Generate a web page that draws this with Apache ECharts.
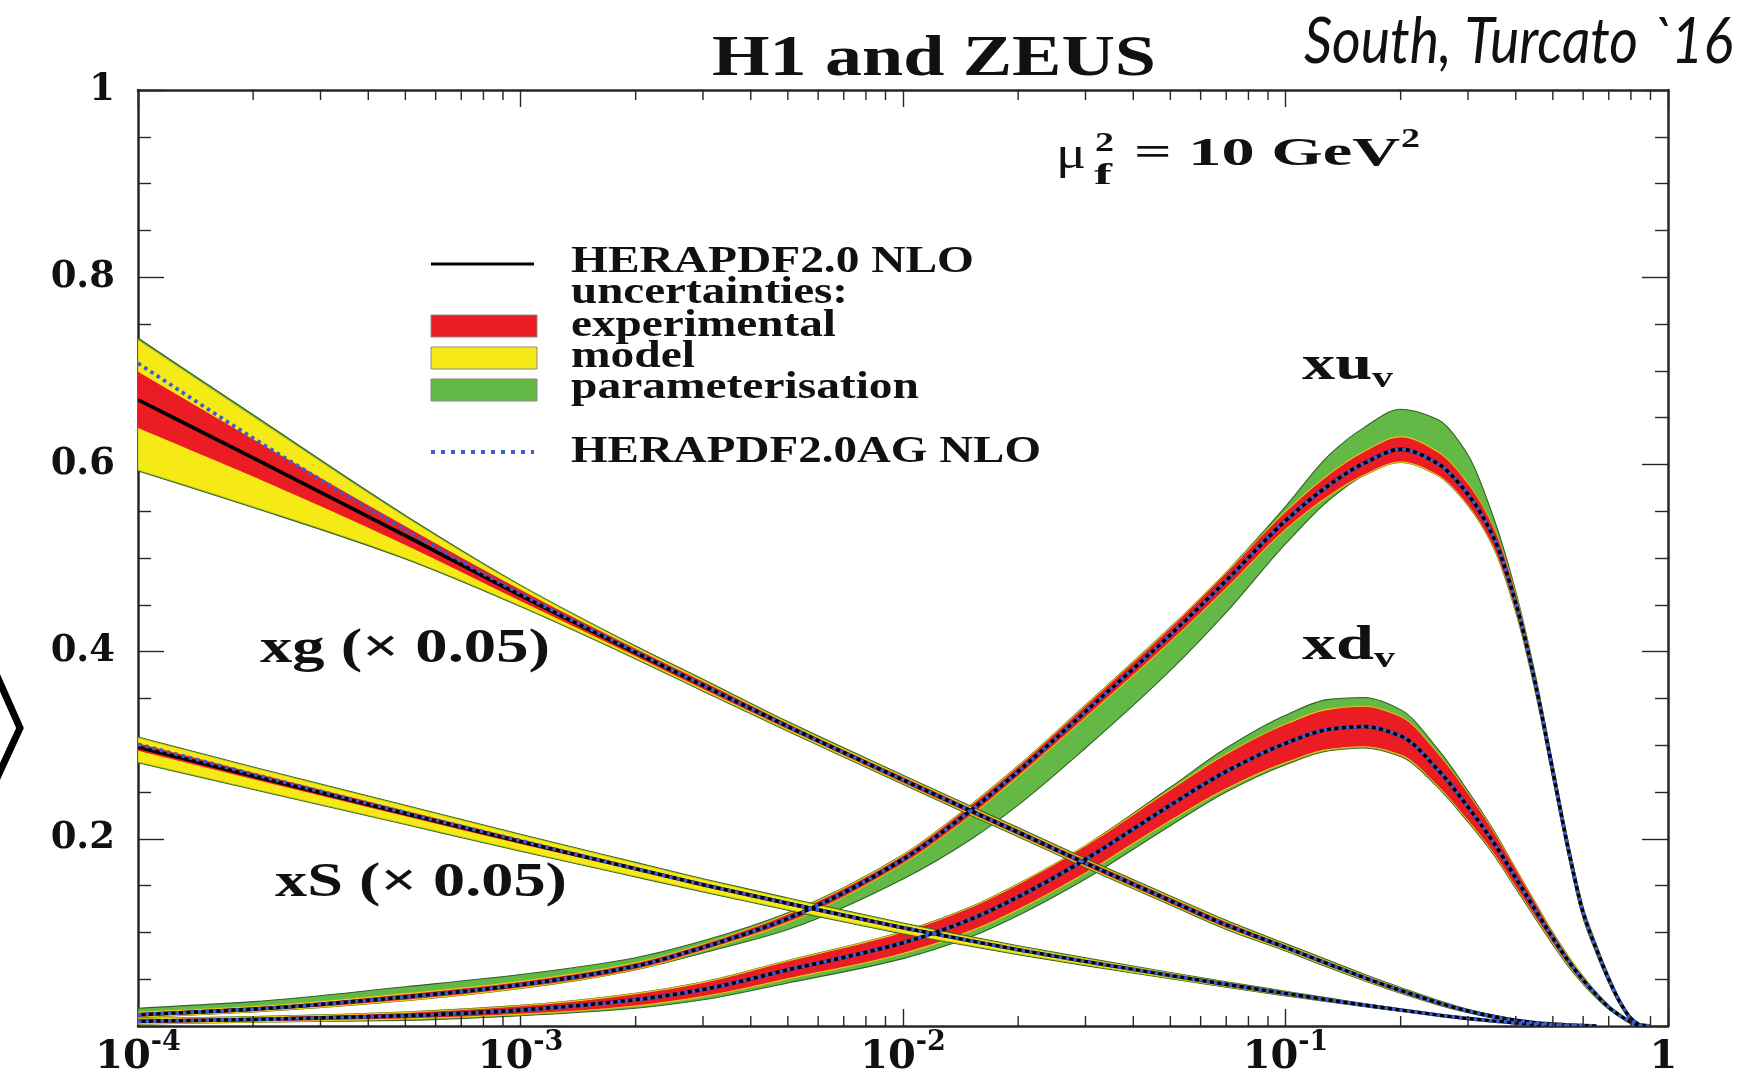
<!DOCTYPE html>
<html>
<head>
<meta charset="utf-8">
<title>H1 and ZEUS – HERAPDF2.0 NLO parton distributions</title>
<script src="https://cdn.jsdelivr.net/npm/echarts@6/dist/echarts.min.js"></script>
<style>
  html, body { margin: 0; padding: 0; background: #ffffff; }
  #chart { width: 1747px; height: 1078px; }
</style>
</head>
<body>
<div id="chart"></div>
<script>
// Momentum fraction x at which every distribution is sampled
const xValues = [0.0001, 0.0002, 0.0005, 0.001, 0.002, 0.003, 0.005, 0.01, 0.015, 0.02, 0.03, 0.05, 0.07, 0.1, 0.13, 0.16, 0.2, 0.25, 0.3, 0.35, 0.4, 0.45, 0.5, 0.55, 0.6, 0.65, 0.7, 0.75, 0.8, 0.85, 0.9];

// Decade tick labels of the x axis (exponents of ten)
const xDecades = [-4, -3, -2, -1, 0];
// Value-axis tick labels
const yTickLabels = ['', '0.2', '0.4', '0.6', '0.8', '1'];

// Gluon xg (scaled by 0.05)
const xgCentral = [0.669, 0.607, 0.524, 0.460, 0.399, 0.364, 0.320, 0.263, 0.230, 0.207, 0.174, 0.134, 0.108, 0.084, 0.066, 0.052, 0.038, 0.025, 0.016, 0.010, 0.006, 0.0035, 0.002, 0.001, 0.0005, 0, 0, 0, 0, 0, 0];
const xgAG      = [0.708, 0.628, 0.530, 0.462, 0.400, 0.364, 0.320, 0.263, 0.230, 0.207, 0.174, 0.134, 0.108, 0.084, 0.066, 0.052, 0.038, 0.025, 0.016, 0.010, 0.006, 0.0035, 0.002, 0.001, 0.0005, 0, 0, 0, 0, 0, 0];
const xgExp     = [0.030, 0.020, 0.010, 0.006, 0.004, 0.004, 0.003, 0.003, 0.003, 0.003, 0.003, 0.003, 0.003, 0.002, 0.002, 0.002, 0.002, 0.0015, 0.001, 0.001, 0.0006, 0.0004, 0.0002, 0.0001, 0.0001, 0, 0, 0, 0, 0, 0];
const xgModUp   = [0.034, 0.024, 0.010, 0.004, 0.002, 0.0015, 0.0012, 0.001, 0.001, 0.001, 0.001, 0.001, 0.001, 0.001, 0.001, 0.0008, 0.0006, 0.0005, 0.0004, 0.0003, 0.0002, 0.0001, 0, 0, 0, 0, 0, 0, 0, 0, 0];
const xgModDn   = [0.045, 0.032, 0.014, 0.005, 0.002, 0.0015, 0.0012, 0.001, 0.001, 0.001, 0.001, 0.001, 0.001, 0.001, 0.001, 0.0008, 0.0006, 0.0005, 0.0004, 0.0003, 0.0002, 0.0001, 0, 0, 0, 0, 0, 0, 0, 0, 0];
const xgParUp   = [0.002, 0.002, 0.0015, 0.001, 0.001, 0.001, 0.001, 0.001, 0.001, 0.001, 0.001, 0.001, 0.001, 0.001, 0.001, 0.0008, 0.0006, 0.0005, 0.0004, 0.0003, 0.0002, 0.0001, 0, 0, 0, 0, 0, 0, 0, 0, 0];
const xgParDn   = [0.001, 0.001, 0.001, 0.0008, 0.0008, 0.0008, 0.0008, 0.0008, 0.0008, 0.0008, 0.0008, 0.0008, 0.0008, 0.0008, 0.0008, 0.0006, 0.0005, 0.0004, 0.0003, 0.0002, 0.0001, 0.0001, 0, 0, 0, 0, 0, 0, 0, 0, 0];

// Sea xS (scaled by 0.05)
const xsCentral = [0.298, 0.267, 0.227, 0.197, 0.168, 0.151, 0.131, 0.105, 0.091, 0.0815, 0.069, 0.054, 0.0445, 0.0348, 0.0278, 0.0225, 0.017, 0.0118, 0.008, 0.0053, 0.0033, 0.0019, 0.001, 0.0004, 0, 0, 0, 0, 0, 0, 0];
const xsAG      = [0.301, 0.269, 0.228, 0.198, 0.168, 0.151, 0.131, 0.105, 0.091, 0.0815, 0.069, 0.054, 0.0445, 0.0348, 0.0278, 0.0225, 0.017, 0.0118, 0.008, 0.0053, 0.0033, 0.0019, 0.001, 0.0004, 0, 0, 0, 0, 0, 0, 0];
const xsExp     = [0.004, 0.0035, 0.003, 0.0025, 0.002, 0.002, 0.002, 0.0018, 0.0015, 0.0015, 0.0012, 0.001, 0.001, 0.0009, 0.0008, 0.0006, 0.0005, 0.0004, 0.0003, 0.0002, 0.0001, 0, 0, 0, 0, 0, 0, 0, 0, 0, 0];
const xsModUp   = [0.006, 0.0055, 0.005, 0.0045, 0.004, 0.0035, 0.003, 0.0025, 0.0022, 0.002, 0.0018, 0.0015, 0.0012, 0.001, 0.0008, 0.0006, 0.0005, 0.0004, 0.0003, 0.0002, 0.0001, 0, 0, 0, 0, 0, 0, 0, 0, 0, 0];
const xsModDn   = [0.012, 0.010, 0.008, 0.007, 0.006, 0.005, 0.0045, 0.004, 0.0035, 0.003, 0.0025, 0.002, 0.0015, 0.0012, 0.001, 0.0008, 0.0006, 0.0004, 0.0003, 0.0002, 0.0001, 0, 0, 0, 0, 0, 0, 0, 0, 0, 0];
const xsParUp   = [0.0008, 0.0008, 0.0008, 0.0008, 0.0008, 0.0008, 0.0008, 0.0008, 0.0008, 0.0008, 0.0008, 0.0006, 0.0006, 0.0005, 0.0004, 0.0003, 0.0002, 0.0001, 0.0001, 0, 0, 0, 0, 0, 0, 0, 0, 0, 0, 0, 0];
const xsParDn   = [0.0008, 0.0008, 0.0008, 0.0008, 0.0008, 0.0008, 0.0008, 0.0008, 0.0008, 0.0008, 0.0008, 0.0006, 0.0006, 0.0005, 0.0004, 0.0003, 0.0002, 0.0001, 0.0001, 0, 0, 0, 0, 0, 0, 0, 0, 0, 0, 0, 0];

// Valence up xu_v
const xuCentral = [0.012, 0.018, 0.031, 0.044, 0.064, 0.084, 0.115, 0.178, 0.230, 0.272, 0.336, 0.418, 0.476, 0.540, 0.578, 0.601, 0.616, 0.601, 0.568, 0.522, 0.452, 0.366, 0.272, 0.187, 0.121, 0.082, 0.050, 0.025, 0.008, 0.001, 0];
const xuAG      = [0.012, 0.018, 0.031, 0.044, 0.064, 0.084, 0.115, 0.178, 0.230, 0.272, 0.336, 0.418, 0.476, 0.540, 0.578, 0.601, 0.616, 0.601, 0.568, 0.522, 0.452, 0.366, 0.272, 0.187, 0.121, 0.082, 0.050, 0.025, 0.008, 0.001, 0];
const xuExp     = [0.002, 0.002, 0.003, 0.003, 0.003, 0.003, 0.004, 0.004, 0.005, 0.005, 0.006, 0.007, 0.008, 0.009, 0.011, 0.012, 0.013, 0.012, 0.011, 0.010, 0.009, 0.008, 0.007, 0.006, 0.005, 0.004, 0.003, 0.002, 0.0015, 0.0005, 0];
const xuModUp   = [0.001, 0.001, 0.001, 0.001, 0.001, 0.001, 0.001, 0.001, 0.001, 0.001, 0.001, 0.001, 0.001, 0.001, 0.001, 0.001, 0.001, 0.001, 0.001, 0.001, 0.001, 0.001, 0.001, 0.001, 0.001, 0.001, 0.001, 0.0008, 0.0005, 0.0002, 0];
const xuModDn   = [0.001, 0.001, 0.001, 0.001, 0.001, 0.001, 0.001, 0.001, 0.001, 0.001, 0.001, 0.001, 0.001, 0.001, 0.001, 0.001, 0.001, 0.001, 0.001, 0.001, 0.001, 0.001, 0.001, 0.001, 0.001, 0.001, 0.001, 0.0008, 0.0005, 0.0002, 0];
const xuParUp   = [0.004, 0.005, 0.007, 0.007, 0.005, 0.003, 0.001, 0, 0, 0, 0, 0, 0, 0.005, 0.020, 0.025, 0.029, 0.034, 0.030, 0.010, 0.002, 0, 0, 0, 0, 0, 0, 0, 0, 0, 0];
const xuParDn   = [0, 0, 0, 0, 0, 0.002, 0.007, 0.016, 0.025, 0.030, 0.032, 0.030, 0.025, 0.015, 0.004, 0, 0, 0, 0, 0, 0, 0, 0, 0, 0, 0, 0, 0, 0, 0, 0];

// Valence down xd_v
const xdCentral = [0.005, 0.007, 0.011, 0.017, 0.028, 0.039, 0.060, 0.089, 0.114, 0.138, 0.178, 0.236, 0.272, 0.302, 0.317, 0.320, 0.310, 0.274, 0.234, 0.196, 0.158, 0.124, 0.094, 0.069, 0.049, 0.033, 0.020, 0.011, 0.004, 0.0005, 0];
const xdAG      = [0.005, 0.007, 0.011, 0.017, 0.028, 0.039, 0.060, 0.089, 0.114, 0.138, 0.178, 0.236, 0.272, 0.302, 0.317, 0.320, 0.310, 0.274, 0.234, 0.196, 0.158, 0.124, 0.094, 0.069, 0.049, 0.033, 0.020, 0.011, 0.004, 0.0005, 0];
const xdExp     = [0.002, 0.002, 0.003, 0.004, 0.006, 0.007, 0.009, 0.011, 0.012, 0.013, 0.014, 0.016, 0.018, 0.020, 0.021, 0.021, 0.020, 0.017, 0.014, 0.011, 0.009, 0.007, 0.005, 0.004, 0.003, 0.002, 0.0015, 0.001, 0.0005, 0, 0];
const xdModUp   = [0.001, 0.001, 0.001, 0.001, 0.001, 0.001, 0.001, 0.001, 0.001, 0.001, 0.001, 0.001, 0.001, 0.001, 0.001, 0.001, 0.001, 0.001, 0.001, 0.001, 0.001, 0.001, 0.001, 0.001, 0.001, 0.0008, 0.0006, 0.0004, 0.0002, 0, 0];
const xdModDn   = [0.001, 0.001, 0.001, 0.001, 0.001, 0.001, 0.001, 0.001, 0.001, 0.001, 0.001, 0.001, 0.001, 0.001, 0.001, 0.001, 0.001, 0.001, 0.001, 0.001, 0.001, 0.001, 0.001, 0.001, 0.001, 0.0008, 0.0006, 0.0004, 0.0002, 0, 0];
const xdParUp   = [0, 0, 0, 0, 0, 0, 0, 0, 0, 0, 0, 0.002, 0.006, 0.009, 0.010, 0.009, 0.007, 0.004, 0.002, 0.001, 0, 0, 0, 0, 0, 0, 0, 0, 0, 0, 0];
const xdParDn   = [0, 0, 0.001, 0.001, 0.002, 0.003, 0.004, 0.005, 0.006, 0.006, 0.006, 0.005, 0.003, 0.002, 0.001, 0.001, 0.001, 0.001, 0.001, 0.001, 0.001, 0.001, 0.001, 0.001, 0.0005, 0.0005, 0, 0, 0, 0, 0];

// ---------------------------------------------------------------------------
const FRAME = '#262626';
const RED = '#ec1c24';
const YELLOW = '#f6ea16';
const GREEN = '#64b946';
const AG_BLUE = '#3a5cd0';
const SERIF = 'Liberation Serif';
const TICK_FONT = 'DejaVu Serif';

// Minor ticks of the logarithmic x axis (2..9 within each decade)
const xMinorTicks = [];
for (let d = -4; d < 0; d++) {
  for (let k = 2; k <= 9; k++) xMinorTicks.push(+(k * Math.pow(10, d)).toPrecision(3));
}

// Monotone cubic (Fritsch-Butland) segments through pixel points sorted by x
function monotoneSegments(pts) {
  const n = pts.length, h = [], m = [], t = new Array(n);
  for (let i = 0; i < n - 1; i++) {
    h[i] = pts[i + 1][0] - pts[i][0];
    m[i] = (pts[i + 1][1] - pts[i][1]) / h[i];
  }
  t[0] = m[0];
  t[n - 1] = m[n - 2];
  for (let i = 1; i < n - 1; i++) {
    if (m[i - 1] * m[i] <= 0) { t[i] = 0; continue; }
    const w1 = 2 * h[i] + h[i - 1], w2 = h[i] + 2 * h[i - 1];
    t[i] = (w1 + w2) / (w1 / m[i - 1] + w2 / m[i]);
  }
  const segs = [];
  for (let i = 0; i < n - 1; i++) {
    const p = pts[i], q = pts[i + 1], d = h[i] / 3;
    segs.push([p, [p[0] + d, p[1] + t[i] * d], [q[0] - d, q[1] - t[i + 1] * d], q]);
  }
  return segs;
}
const fmt = p => p[0].toFixed(2) + ',' + p[1].toFixed(2);

function linePath(pts) {
  let d = 'M' + fmt(pts[0]);
  monotoneSegments(pts).forEach(s => { d += 'C' + fmt(s[1]) + ' ' + fmt(s[2]) + ' ' + fmt(s[3]); });
  return d;
}
function bandPath(up, dn) {
  let d = linePath(up);
  const back = monotoneSegments(dn).reverse();
  d += 'L' + fmt(dn[dn.length - 1]);
  back.forEach(s => { d += 'C' + fmt(s[2]) + ' ' + fmt(s[1]) + ' ' + fmt(s[0]); });
  return d + 'Z';
}

// Filled uncertainty band between two bounds, drawn as one shape
function bandSeries(name, lo, hi, fill, stroke, strokeWidth) {
  return {
    name, type: 'custom', silent: true, clip: true, z: 2,
    data: xValues.map((x, i) => [x, lo[i], hi[i]]),
    encode: { x: 0, y: [1, 2] },
    renderItem(params, api) {
      if (params.dataIndex !== 0) return null;
      const up = xValues.map((x, i) => api.coord([x, hi[i]]));
      const dn = xValues.map((x, i) => api.coord([x, lo[i]]));
      return {
        type: 'path',
        shape: { pathData: bandPath(up, dn) },
        style: { fill, stroke: stroke || null, lineWidth: strokeWidth || 0 }
      };
    }
  };
}

// Curve through the sampled values; it stops where it first reaches zero
function curveSeries(name, vals, stroke, width, dash, z) {
  let last = vals.findIndex(v => v <= 0);
  if (last < 0) last = vals.length - 1;
  return {
    name, type: 'custom', silent: true, clip: true, z: z,
    data: xValues.map((x, i) => [x, vals[i]]),
    encode: { x: 0, y: 1 },
    renderItem(params, api) {
      if (params.dataIndex !== 0) return null;
      const pts = [];
      for (let i = 0; i <= last; i++) pts.push(api.coord([xValues[i], vals[i]]));
      return {
        type: 'path',
        shape: { pathData: linePath(pts) },
        style: { fill: 'none', stroke, lineWidth: width, lineDash: dash || null, lineCap: 'butt', lineJoin: 'round' }
      };
    }
  };
}

function envelopes(c, exp, modUp, modDn, parUp, parDn) {
  const e = { redLo: [], redHi: [], yelLo: [], yelHi: [], grnLo: [], grnHi: [] };
  c.forEach((v, i) => {
    e.redLo.push(Math.max(0, v - exp[i]));
    e.redHi.push(v + exp[i]);
    e.yelLo.push(Math.max(0, v - exp[i] - modDn[i]));
    e.yelHi.push(v + exp[i] + modUp[i]);
    e.grnLo.push(Math.max(0, v - exp[i] - modDn[i] - parDn[i]));
    e.grnHi.push(v + exp[i] + modUp[i] + parUp[i]);
  });
  return e;
}

const distributions = [
  { key: 'xu_v', c: xuCentral, ag: xuAG, band: envelopes(xuCentral, xuExp, xuModUp, xuModDn, xuParUp, xuParDn) },
  { key: 'xd_v', c: xdCentral, ag: xdAG, band: envelopes(xdCentral, xdExp, xdModUp, xdModDn, xdParUp, xdParDn) },
  { key: 'xS',   c: xsCentral, ag: xsAG, band: envelopes(xsCentral, xsExp, xsModUp, xsModDn, xsParUp, xsParDn) },
  { key: 'xg',   c: xgCentral, ag: xgAG, band: envelopes(xgCentral, xgExp, xgModUp, xgModDn, xgParUp, xgParDn) }
];

const series = [];
distributions.forEach(d => {
  series.push(bandSeries(d.key + ' parameterisation', d.band.grnLo, d.band.grnHi, GREEN, '#2f6323', 1.1));
  series.push(bandSeries(d.key + ' model', d.band.yelLo, d.band.yelHi, YELLOW, '#c9ae10', 0.6));
  series.push(bandSeries(d.key + ' experimental', d.band.redLo, d.band.redHi, RED, null, 0));
});
distributions.forEach(d => series.push(curveSeries(d.key + ' HERAPDF2.0 NLO', d.c, '#000000', 3.6, null, 3)));
distributions.forEach(d => series.push(curveSeries(d.key + ' HERAPDF2.0AG NLO', d.ag, AG_BLUE, 3.8, [3.5, 4], 4)));

// Minor ticks along the bottom and top frame edges
series.push({
  name: 'x minor ticks', type: 'custom', silent: true, clip: false, z: 6,
  data: xMinorTicks.map(v => [v, 0]),
  encode: { x: 0, y: 1 },
  renderItem(params, api) {
    const v = api.value(0);
    const b = api.coord([v, 0]), t = api.coord([v, 1]);
    const st = { stroke: FRAME, lineWidth: 1.4 };
    return {
      type: 'group', children: [
        { type: 'line', shape: { x1: b[0], y1: b[1], x2: b[0], y2: b[1] - 10 }, style: st },
        { type: 'line', shape: { x1: t[0], y1: t[1], x2: t[0], y2: t[1] + 10 }, style: st }
      ]
    };
  }
});

// ---------------------------------------------------------------------------
// Text helpers: the lettering is set wide, so each string is stretched to its box
const measureCtx = document.createElement('canvas').getContext('2d');
function fitText(text, left, cy, width, size, opts) {
  opts = opts || {};
  const family = opts.family || SERIF;
  const weight = opts.weight || 'bold';
  const fstyle = opts.fontStyle || 'normal';
  measureCtx.font = fstyle + ' ' + weight + ' ' + size + 'px "' + family + '"';
  const w = measureCtx.measureText(text).width || 1;
  return {
    type: 'text', x: left, y: cy, scaleX: width / w, silent: true, z: 100,
    style: {
      text, fontFamily: family, fontWeight: weight, fontStyle: fstyle, fontSize: size,
      fill: opts.color || '#111111', textAlign: 'left', textVerticalAlign: 'middle',
      align: 'left', verticalAlign: 'middle'
    }
  };
}

const graphics = [
  // heading and credit
  fitText('H1 and ZEUS', 712, 61, 444, 56),
  fitText('South, Turcato `16', 1304, 42, 429, 64, { family: 'Lato', weight: 'normal', fontStyle: 'italic' }),
  // factorisation scale
  fitText('\u03bc', 1056, 156, 30, 46, { weight: 'normal' }),
  fitText('2', 1095, 144, 19, 28),
  fitText('f', 1094, 176, 18, 30),
  fitText('= 10 GeV', 1134, 155, 266, 40),
  fitText('2', 1401, 140, 19, 28),
  // curve names
  fitText('xu', 1302, 367, 70, 48),
  fitText('v', 1372, 379, 21, 30),
  fitText('xd', 1302, 647, 72, 48),
  fitText('v', 1374, 659, 21, 30),
  fitText('xg (\u00d7 0.05)', 260, 650, 290, 48),
  fitText('xS (\u00d7 0.05)', 275, 884, 292, 48),
  // legend
  { type: 'line', silent: true, z: 100, shape: { x1: 431, y1: 264, x2: 534, y2: 264 }, style: { stroke: '#000', lineWidth: 3 } },
  fitText('HERAPDF2.0 NLO', 571, 262, 403, 38),
  fitText('uncertainties:', 571, 293, 277, 38),
  { type: 'rect', silent: true, z: 100, shape: { x: 431, y: 315, width: 106, height: 22 }, style: { fill: RED, stroke: '#8a8a8a', lineWidth: 1 } },
  fitText('experimental', 571, 326, 265, 38),
  { type: 'rect', silent: true, z: 100, shape: { x: 431, y: 347, width: 106, height: 22 }, style: { fill: YELLOW, stroke: '#8a8a8a', lineWidth: 1 } },
  fitText('model', 571, 357, 124, 38),
  { type: 'rect', silent: true, z: 100, shape: { x: 431, y: 379, width: 106, height: 22 }, style: { fill: GREEN, stroke: '#8a8a8a', lineWidth: 1 } },
  fitText('parameterisation', 571, 388, 348, 38),
  { type: 'line', silent: true, z: 100, shape: { x1: 431, y1: 452, x2: 534, y2: 452 }, style: { stroke: AG_BLUE, lineWidth: 4, lineDash: [4, 6] } },
  fitText('HERAPDF2.0AG NLO', 571, 452, 470, 38),
  // closing angle bracket at the left margin
  { type: 'polyline', silent: true, z: 100, shape: { points: [[-3, 676], [20, 728], [-3, 778]] }, style: { stroke: '#000', lineWidth: 7, fill: null, lineJoin: 'miter' } }
];

// ---------------------------------------------------------------------------
function xLabel(v) {
  const e = Math.round(Math.log10(v));
  if (xDecades.indexOf(e) < 0) return '';
  return e === 0 ? '{b|1}{s| }' : '{b|10}{s|' + e + '}';
}
function yLabel(v) {
  return yTickLabels[Math.round(v / 0.2)] || '';
}

const frameLine = { onZero: false, lineStyle: { color: FRAME, width: 2.5 } };
const xTick = { show: true, inside: true, length: 17, lineStyle: { color: FRAME, width: 1.4 } };
const yTick = { show: true, inside: true, length: 26, lineStyle: { color: FRAME, width: 1.4 } };
const yMinor = { show: true, splitNumber: 4, length: 13, lineStyle: { color: FRAME, width: 1.4 } };

const option = {
  backgroundColor: '#ffffff',
  animation: false,
  grid: { left: 138, right: 79, top: 90, bottom: 52, containLabel: false, outerBoundsMode: 'none' },
  xAxis: [
    {
      type: 'log', logBase: 10, min: 0.0001, max: 1, position: 'bottom',
      axisLine: Object.assign({ show: true }, frameLine), axisTick: xTick,
      splitLine: { show: false }, minorTick: { show: false },
      axisLabel: {
        margin: 10, formatter: xLabel,
        fontFamily: TICK_FONT, fontWeight: 'bold', fontSize: 40, color: '#111',
        rich: {
          b: { fontFamily: TICK_FONT, fontWeight: 'bold', fontSize: 40, color: '#111', verticalAlign: 'bottom', lineHeight: 42 },
          s: { fontFamily: TICK_FONT, fontWeight: 'bold', fontSize: 27, color: '#111', verticalAlign: 'bottom', lineHeight: 28, padding: [0, 0, 22, 0] }
        }
      }
    },
    {
      type: 'log', logBase: 10, min: 0.0001, max: 1, position: 'top',
      axisLine: Object.assign({ show: true }, frameLine), axisTick: xTick,
      splitLine: { show: false }, axisLabel: { show: false }
    }
  ],
  yAxis: [
    {
      type: 'value', min: 0, max: 1, interval: 0.2, position: 'left',
      axisLine: Object.assign({ show: true }, frameLine), axisTick: yTick, minorTick: yMinor,
      splitLine: { show: false }, minorSplitLine: { show: false },
      axisLabel: { margin: 23, formatter: yLabel, fontFamily: TICK_FONT, fontWeight: 'bold', fontSize: 37, color: '#111' }
    },
    {
      type: 'value', min: 0, max: 1, interval: 0.2, position: 'right',
      axisLine: Object.assign({ show: true }, frameLine), axisTick: yTick, minorTick: yMinor,
      splitLine: { show: false }, minorSplitLine: { show: false }, axisLabel: { show: false }
    }
  ],
  series,
  graphic: { elements: graphics }
};

const chart = echarts.init(document.getElementById('chart'), null, { renderer: 'canvas', width: 1747, height: 1078 });
chart.setOption(option);
</script>
</body>
</html>
